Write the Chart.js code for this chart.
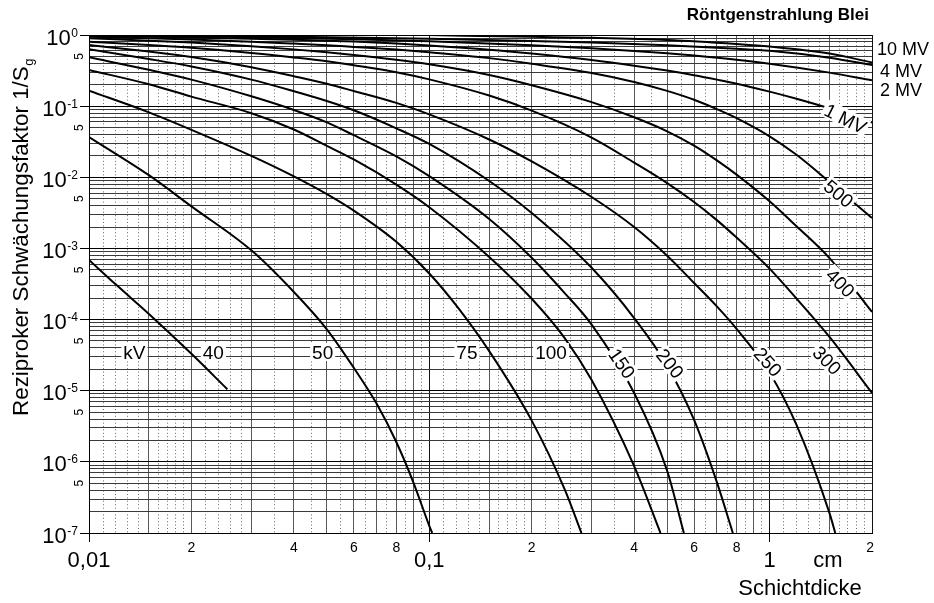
<!DOCTYPE html>
<html>
<head>
<meta charset="utf-8">
<script src="https://cdn.jsdelivr.net/npm/chart.js@4.4.0/dist/chart.umd.min.js"></script>
<style>
  html, body { margin: 0; padding: 0; background: #fff; }
</style>
</head>
<body>
<canvas id="chart" width="934" height="603"></canvas>
<script>
// Schichtdicke in cm -> reziproker Schwächungsfaktor 1/Sg
const kv40 = [[0.01, 6.9e-4], [0.012, 3.1e-4], [0.015, 1.2e-4], [0.02, 3.3e-5], [0.0255, 1.05e-5]];
const kv50 = [[0.01, 0.0368], [0.015, 0.0107], [0.02, 3.9e-3], [0.03, 9.4e-4], [0.04, 2.44e-4], [0.05, 7.3e-5],
  [0.06, 2.1e-5], [0.07, 6.6e-6], [0.08, 1.9e-6], [0.09, 5.0e-7], [0.1, 1.26e-7], [0.102, 1e-7]];
const kv75 = [[0.01, 0.165], [0.015, 0.0818], [0.02, 0.0465], [0.03, 0.02], [0.04, 0.0103], [0.05, 5.8e-3],
  [0.06, 3.4e-3], [0.08, 1.24e-3], [0.1, 4.45e-4], [0.12, 1.58e-4], [0.15, 3.6e-5], [0.2, 3.8e-6],
  [0.25, 4.1e-7], [0.28, 1e-7]];
const kv100 = [[0.01, 0.322], [0.015, 0.203], [0.02, 0.136], [0.03, 0.0796], [0.04, 0.047], [0.05, 0.0277],
  [0.06, 0.0178], [0.08, 7.9e-3], [0.1, 3.8e-3], [0.15, 7.6e-4], [0.2, 1.96e-4], [0.25, 5.5e-5],
  [0.3, 1.41e-5], [0.4, 8.7e-7], [0.478, 1e-7]];
const kv150 = [[0.01, 0.486], [0.015, 0.324], [0.02, 0.236], [0.03, 0.1375], [0.04, 0.0883], [0.05, 0.0591],
  [0.06, 0.0391], [0.08, 0.0197], [0.1, 0.0104], [0.15, 2.6e-3], [0.2, 7.4e-4], [0.25, 2.36e-4],
  [0.3, 8.5e-5], [0.4, 9.3e-6], [0.5, 7.5e-7], [0.56, 1e-7]];
const kv200 = [[0.01, 0.629], [0.015, 0.46], [0.02, 0.361], [0.03, 0.236], [0.04, 0.162], [0.05, 0.118],
  [0.06, 0.0874], [0.08, 0.0488], [0.1, 0.0294], [0.15, 8.87e-3], [0.2, 3.15e-3], [0.3, 5.34e-4],
  [0.4, 1.05e-4], [0.5, 2.25e-5], [0.6, 3.9e-6], [0.7, 5.2e-7], [0.78, 1e-7]];
const kv250 = [[0.01, 0.723], [0.015, 0.585], [0.02, 0.491], [0.03, 0.353], [0.04, 0.264], [0.05, 0.207],
  [0.06, 0.163], [0.08, 0.111], [0.1, 0.0766], [0.15, 0.034], [0.2, 0.0167], [0.3, 5.28e-3],
  [0.4, 2.0e-3], [0.5, 7.9e-4], [0.6, 3.27e-4], [0.7, 1.53e-4], [0.8, 7.4e-5], [1.0, 1.79e-5],
  [1.2, 3.3e-6], [1.5, 1.9e-7], [1.56, 1e-7]];
const kv300 = [[0.01, 0.805], [0.015, 0.721], [0.02, 0.661], [0.03, 0.56], [0.04, 0.484], [0.05, 0.427],
  [0.06, 0.376], [0.08, 0.3], [0.1, 0.238], [0.15, 0.141], [0.2, 0.0865], [0.3, 0.0362], [0.4, 0.0161],
  [0.5, 8.3e-3], [0.6, 4.5e-3], [0.7, 2.5e-3], [0.8, 1.42e-3], [1.0, 5.2e-4], [1.2, 1.97e-4],
  [1.5, 5.7e-5], [2.0, 9.3e-6]];
const kv400 = [[0.01, 0.899], [0.015, 0.832], [0.02, 0.782], [0.03, 0.696], [0.04, 0.628], [0.05, 0.573],
  [0.06, 0.525], [0.08, 0.448], [0.1, 0.387], [0.15, 0.274], [0.2, 0.197], [0.3, 0.114], [0.4, 0.0697],
  [0.5, 0.0443], [0.6, 0.0279], [0.7, 0.0173], [0.8, 0.0109], [1.0, 4.6e-3], [1.2, 2.05e-3],
  [1.5, 7.3e-4], [2.0, 1.28e-4]];
const kv500 = [[0.01, 0.947], [0.015, 0.899], [0.02, 0.864], [0.03, 0.805], [0.04, 0.757], [0.05, 0.719],
  [0.06, 0.68], [0.08, 0.623], [0.1, 0.571], [0.15, 0.473], [0.2, 0.394], [0.3, 0.293], [0.4, 0.219],
  [0.5, 0.164], [0.6, 0.123], [0.7, 0.0908], [0.8, 0.0679], [1.0, 0.0377], [1.2, 0.0207],
  [1.5, 8.6e-3], [2.0, 2.68e-3]];
const mv1 = [[0.01, 0.978], [0.015, 0.947], [0.02, 0.925], [0.03, 0.887], [0.04, 0.856], [0.05, 0.832],
  [0.06, 0.808], [0.08, 0.757], [0.1, 0.712], [0.15, 0.621], [0.2, 0.548], [0.3, 0.445], [0.4, 0.371],
  [0.5, 0.316], [0.6, 0.272], [0.7, 0.236], [0.8, 0.207], [1.0, 0.16], [1.2, 0.127], [1.5, 0.0929],
  [2.0, 0.0589]];
const mv2 = [[0.01, 0.99], [0.02, 0.958], [0.04, 0.909], [0.06, 0.871], [0.1, 0.814], [0.2, 0.718],
  [0.3, 0.652], [0.4, 0.598], [0.5, 0.553], [0.6, 0.514], [0.8, 0.449], [1.0, 0.395], [1.5, 0.296],
  [2.0, 0.231]];
const mv4 = [[0.01, 0.994], [0.02, 0.974], [0.04, 0.944], [0.1, 0.885], [0.2, 0.826], [0.3, 0.783],
  [0.5, 0.718], [0.8, 0.641], [1.0, 0.6], [1.5, 0.48], [2.0, 0.378]];
const mv10 = [[0.1, 1.0], [0.2, 0.943], [0.3, 0.913], [0.5, 0.851], [0.8, 0.747], [1.0, 0.689],
  [1.5, 0.549], [2.0, 0.41]];

const seriesNames = ['40 kV', '50 kV', '75 kV', '100 kV', '150 kV', '200 kV', '250 kV', '300 kV',
  '400 kV', '500 kV', '1 MV', '2 MV', '4 MV', '10 MV'];
const seriesData = [kv40, kv50, kv75, kv100, kv150, kv200, kv250, kv300, kv400, kv500, mv1, mv2, mv4, mv10];

// axis labels
const yDecades = [1, 0.1, 0.01, 1e-3, 1e-4, 1e-5, 1e-6, 1e-7];
const yExponents = ['0', '-1', '-2', '-3', '-4', '-5', '-6', '-7'];
const xBigTicks = [0.01, 0.1, 1];
const xBigLabels = ['0,01', '0,1', '1'];
const xSmallTicks = [0.02, 0.04, 0.06, 0.08, 0.2, 0.4, 0.6, 0.8, 2];
const xSmallLabels = ['2', '4', '6', '8', '2', '4', '6', '8', '2'];

// curve names written into the plot
const curveLabels = [
  { text: 'kV', x: 0.0136, y: 3.5e-5, angle: 0 },
  { text: '40', x: 0.0232, y: 3.5e-5, angle: 0 },
  { text: '50', x: 0.0486, y: 3.5e-5, angle: 0 },
  { text: '75', x: 0.129, y: 3.5e-5, angle: 0 },
  { text: '100', x: 0.228, y: 3.5e-5, angle: 0 },
  { text: '150', x: 0.369, y: 2.43e-5, angle: 55 },
  { text: '200', x: 0.511, y: 2.43e-5, angle: 51 },
  { text: '250', x: 0.991, y: 2.56e-5, angle: 48 },
  { text: '300', x: 1.478, y: 2.7e-5, angle: 45 },
  { text: '400', x: 1.618, y: 3.3e-4, angle: 45 },
  { text: '500', x: 1.598, y: 5.95e-3, angle: 40 },
  { text: '1 MV', x: 1.673, y: 0.0675, angle: 27 }
];
const sideLabels = [
  { text: '10 MV', y: 0.65, dx: 5 },
  { text: '4 MV', y: 0.322, dx: 8 },
  { text: '2 MV', y: 0.169, dx: 8 }
];

// grid
const solidSteps = [1, 1.5, 2, 3, 4, 5, 6, 7, 8, 9];
const dottedSteps = [1.1, 1.2, 1.3, 1.4, 1.6, 1.7, 1.8, 1.9, 2.2, 2.4, 2.6, 2.8, 3.5, 4.5, 5.5, 6.5, 7.5, 8.5, 9.5];
const xGrid = [];
[0.01, 0.1, 1].forEach(d => {
  solidSteps.forEach(s => { if (d * s <= 2.0001) xGrid.push({ value: d * s, dotted: false }); });
  dottedSteps.forEach(s => { if (d * s <= 2.0001) xGrid.push({ value: d * s, dotted: true }); });
});
xGrid.push({ value: 2, dotted: false });
xGrid.sort((a, b) => a.value - b.value);

const yGrid = [];
[1e-7, 1e-6, 1e-5, 1e-4, 1e-3, 0.01, 0.1].forEach(d => {
  [1, 2, 3, 4, 5, 6, 7, 8, 9].forEach(s => yGrid.push(d * s));
});
yGrid.push(1);

const FONT = '"Liberation Sans", Arial, Helvetica, sans-serif';

function isDecade(v) {
  const l = Math.log10(v);
  return Math.abs(l - Math.round(l)) < 1e-6;
}
function xKind(v) {
  const g = xGrid.find(t => Math.abs(t.value - v) < v * 1e-6);
  return g ? g : { dotted: false };
}

const textPlugin = {
  id: 'textPlugin',
  afterDraw(chart) {
    const ctx = chart.ctx;
    const xs = chart.scales.x;
    const ys = chart.scales.y;
    const area = chart.chartArea;
    ctx.save();
    ctx.fillStyle = '#000';

    // curve labels with white boxes
    curveLabels.forEach(l => {
      const px = xs.getPixelForValue(l.x);
      const py = ys.getPixelForValue(l.y);
      ctx.save();
      ctx.translate(px, py);
      ctx.rotate(l.angle * Math.PI / 180);
      ctx.font = '19px ' + FONT;
      const w = ctx.measureText(l.text).width;
      ctx.fillStyle = '#fff';
      ctx.fillRect(-w / 2 - 2, -9, w + 4, 18);
      ctx.fillStyle = '#000';
      ctx.textAlign = 'center';
      ctx.textBaseline = 'alphabetic';
      ctx.fillText(l.text, 0, 7);
      ctx.restore();
    });

    // labels right of the plot
    ctx.font = '18px ' + FONT;
    ctx.textAlign = 'left';
    ctx.textBaseline = 'alphabetic';
    sideLabels.forEach(l => {
      ctx.fillText(l.text, area.right + l.dx, ys.getPixelForValue(l.y) + 6.5);
    });

    // y tick labels 10^n
    ctx.textAlign = 'right';
    yDecades.forEach((v, i) => {
      const py = ys.getPixelForValue(v);
      ctx.font = '12px ' + FONT;
      const sw = ctx.measureText(yExponents[i]).width;
      ctx.fillText(yExponents[i], 78, py + 1.5);
      ctx.font = '22px ' + FONT;
      ctx.fillText('10', 78 - sw - 0.5, py + 9.5);
    });
    // rotated 5s
    ctx.font = '12px ' + FONT;
    ctx.textAlign = 'center';
    yDecades.slice(1).forEach(v => {
      const py = ys.getPixelForValue(5 * v);
      ctx.save();
      ctx.translate(79, py);
      ctx.rotate(-Math.PI / 2);
      ctx.fillText('5', 0, 4.3);
      ctx.restore();
    });

    // x tick labels
    ctx.font = '22px ' + FONT;
    xBigTicks.forEach((v, i) => {
      ctx.fillText(xBigLabels[i], xs.getPixelForValue(v), 566.5);
    });
    ctx.fillText('cm', 828, 566.5);
    ctx.fillText('Schichtdicke', 800, 595);
    ctx.font = '14px ' + FONT;
    xSmallTicks.forEach((v, i) => {
      const px = xs.getPixelForValue(v);
      if (i === xSmallTicks.length - 1) {
        ctx.textAlign = 'right';
        ctx.fillText(xSmallLabels[i], px + 2, 551.5);
        ctx.textAlign = 'center';
      } else {
        ctx.fillText(xSmallLabels[i], px, 551.5);
      }
    });

    // y axis title
    ctx.save();
    ctx.translate(28, 237.5);
    ctx.rotate(-Math.PI / 2);
    ctx.textAlign = 'left';
    ctx.font = '22.4px ' + FONT;
    const main = 'Reziproker Schwächungsfaktor 1/S';
    const mw = ctx.measureText(main).width;
    ctx.font = '13px ' + FONT;
    const gw = ctx.measureText('g').width;
    const x0 = -(mw + gw) / 2;
    ctx.font = '22.4px ' + FONT;
    ctx.fillText(main, x0, 0);
    ctx.font = '13px ' + FONT;
    ctx.fillText('g', x0 + mw + 0.5, 5);
    ctx.restore();

    // title
    ctx.font = 'bold 17px ' + FONT;
    ctx.textAlign = 'right';
    ctx.fillText('Röntgenstrahlung Blei', 869, 20);

    ctx.restore();
  }
};

document.addEventListener("DOMContentLoaded", () => {
  const ctx = document.getElementById("chart").getContext("2d");
  new Chart(ctx, {
    type: "line",
    data: {
      datasets: seriesData.map((s, i) => ({
        label: seriesNames[i],
        data: s.map(p => ({ x: p[0], y: p[1] })),
        borderColor: "#000",
        borderWidth: 2,
        pointRadius: 0,
        fill: false,
        cubicInterpolationMode: "monotone"
      }))
    },
    options: {
      responsive: false,
      animation: false,
      layout: { padding: { top: 35, right: 62, bottom: 0, left: 0 } },
      plugins: {
        legend: { display: false },
        title: { display: false },
        tooltip: { enabled: false }
      },
      scales: {
        x: {
          type: "logarithmic",
          min: 0.01,
          max: 2,
          afterBuildTicks: (scale) => { scale.ticks = xGrid.map(g => ({ value: g.value })); },
          afterFit: (scale) => { scale.height = 70; },
          ticks: { display: false },
          grid: {
            lineWidth: 1,
            color: (c) => {
              if (!c.tick) return "#555";
              const v = c.tick.value;
              if (isDecade(v) || v >= 1.999) return "#111";
              return xKind(v).dotted ? "#6a6a6a" : "#5a5a5a";
            },
            tickLength: 9,
            tickColor: (c) => (c.tick && isDecade(c.tick.value)) ? "#000" : "rgba(0,0,0,0)"
          },
          border: {
            display: true,
            color: "#000",
            width: 1,
            dash: (c) => (c.tick && xKind(c.tick.value).dotted) ? [1, 2.4] : []
          }
        },
        y: {
          type: "logarithmic",
          min: 1e-7,
          max: 1,
          afterBuildTicks: (scale) => { scale.ticks = yGrid.map(v => ({ value: v })); },
          afterFit: (scale) => { scale.width = 89; },
          ticks: { display: false },
          grid: {
            lineWidth: 1,
            color: (c) => (c.tick && isDecade(c.tick.value)) ? "#000" : "#3a3a3a",
            tickLength: 9,
            tickColor: (c) => (c.tick && isDecade(c.tick.value)) ? "#000" : "rgba(0,0,0,0)"
          },
          border: { display: true, color: "#000", width: 1 }
        }
      }
    },
    plugins: [textPlugin]
  });
});
</script>
</body>
</html>
